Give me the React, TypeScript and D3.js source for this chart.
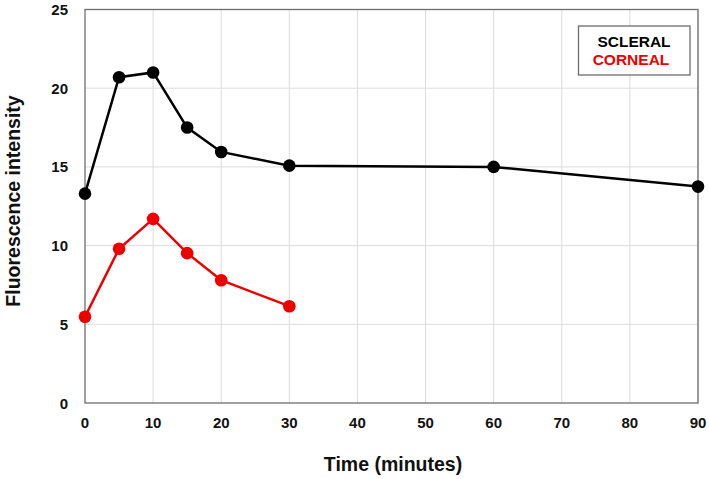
import * as d3 from "d3";
import { useEffect, useRef } from "react";

const times = [0, 5, 10, 15, 20, 30, 60, 90];
const scleral = [13.3, 20.7, 21.0, 17.5, 15.95, 15.08, 15.0, 13.75];
const cornealTimes = [0, 5, 10, 15, 20, 30];
const corneal = [5.48, 9.8, 11.7, 9.52, 7.8, 6.15];
const xTicks = [0, 10, 20, 30, 40, 50, 60, 70, 80, 90];
const yTicks = [0, 5, 10, 15, 20, 25];

export default function App() {
  const svgRef = useRef(null);
  const width = 709;
  const height = 479;
  const margin = { top: 9.5, right: 11, bottom: 76, left: 85 };

  useEffect(() => {
    const root = d3.select(svgRef.current);
    root.selectAll("*").remove();
    const w = width - margin.left - margin.right;
    const h = height - margin.top - margin.bottom;
    const x = d3.scaleLinear().domain([0, 90]).range([0, w]);
    const y = d3.scaleLinear().domain([0, 25]).range([h, 0]);
    const font = "Arial, 'Liberation Sans', sans-serif";

    const svg = root
      .append("g")
      .attr("transform", `translate(${margin.left},${margin.top})`);

    // grid
    svg
      .selectAll(".gx")
      .data(xTicks.slice(1))
      .enter()
      .append("line")
      .attr("x1", (d) => x(d))
      .attr("x2", (d) => x(d))
      .attr("y1", 0)
      .attr("y2", h)
      .attr("stroke", "#dcdcdc")
      .attr("stroke-width", 1);
    svg
      .selectAll(".gy")
      .data(yTicks.slice(1))
      .enter()
      .append("line")
      .attr("x1", 0)
      .attr("x2", w)
      .attr("y1", (d) => y(d))
      .attr("y2", (d) => y(d))
      .attr("stroke", "#dcdcdc")
      .attr("stroke-width", 1);

    // frame
    svg
      .append("rect")
      .attr("x", 0)
      .attr("y", 0)
      .attr("width", w)
      .attr("height", h)
      .attr("fill", "none")
      .attr("stroke", "#6e6e6e")
      .attr("stroke-width", 1.3);

    // tick labels
    svg
      .selectAll(".tx")
      .data(xTicks)
      .enter()
      .append("text")
      .attr("x", (d) => x(d))
      .attr("y", h + 24.5)
      .attr("text-anchor", "middle")
      .attr("font-family", font)
      .attr("font-weight", "bold")
      .attr("font-size", 15)
      .attr("fill", "#111")
      .text((d) => d);
    svg
      .selectAll(".ty")
      .data(yTicks)
      .enter()
      .append("text")
      .attr("x", -17)
      .attr("y", (d) => y(d) + 5.5)
      .attr("text-anchor", "end")
      .attr("font-family", font)
      .attr("font-weight", "bold")
      .attr("font-size", 15)
      .attr("fill", "#111")
      .text((d) => d);

    // axis titles
    svg
      .append("text")
      .attr("x", 393 - margin.left)
      .attr("y", 471 - margin.top)
      .attr("text-anchor", "middle")
      .attr("font-family", font)
      .attr("font-weight", "bold")
      .attr("font-size", 19.5)
      .attr("fill", "#111")
      .text("Time (minutes)");
    svg
      .append("text")
      .attr("transform", `translate(${20 - margin.left},${201 - margin.top}) rotate(-90)`)
      .attr("text-anchor", "middle")
      .attr("font-family", font)
      .attr("font-weight", "bold")
      .attr("font-size", 19.5)
      .attr("fill", "#111")
      .text("Fluorescence intensity");

    const line = d3
      .line<[number, number]>()
      .x((d) => x(d[0]))
      .y((d) => y(d[1]));

    const series = [
      { color: "#000000", pts: times.map((t, i) => [t, scleral[i]] as [number, number]) },
      { color: "#ee0000", pts: cornealTimes.map((t, i) => [t, corneal[i]] as [number, number]) },
    ];

    series.forEach((s) => {
      svg
        .append("path")
        .datum(s.pts)
        .attr("d", line)
        .attr("fill", "none")
        .attr("stroke", s.color)
        .attr("stroke-width", 2.5);
      svg
        .selectAll(null)
        .data(s.pts)
        .enter()
        .append("circle")
        .attr("cx", (d) => x(d[0]))
        .attr("cy", (d) => y(d[1]))
        .attr("r", 6.3)
        .attr("fill", s.color);
    });

    // legend
    const lg = root.append("g");
    lg.append("rect")
      .attr("x", 578.5)
      .attr("y", 26)
      .attr("width", 111.5)
      .attr("height", 49)
      .attr("fill", "#fff")
      .attr("stroke", "#6e6e6e")
      .attr("stroke-width", 1.3);
    lg.append("text")
      .attr("x", 634)
      .attr("y", 47)
      .attr("text-anchor", "middle")
      .attr("font-family", font)
      .attr("font-weight", "bold")
      .attr("font-size", 15.5)
      .attr("fill", "#000")
      .text("SCLERAL");
    lg.append("text")
      .attr("x", 631)
      .attr("y", 65)
      .attr("text-anchor", "middle")
      .attr("font-family", font)
      .attr("font-weight", "bold")
      .attr("font-size", 15.5)
      .attr("fill", "#ee0000")
      .text("CORNEAL");
  }, []);

  return (
    <svg
      ref={svgRef}
      width={width}
      height={height}
      style={{ position: "absolute", left: 0, top: 0, background: "#fff" }}
    ></svg>
  );
}
